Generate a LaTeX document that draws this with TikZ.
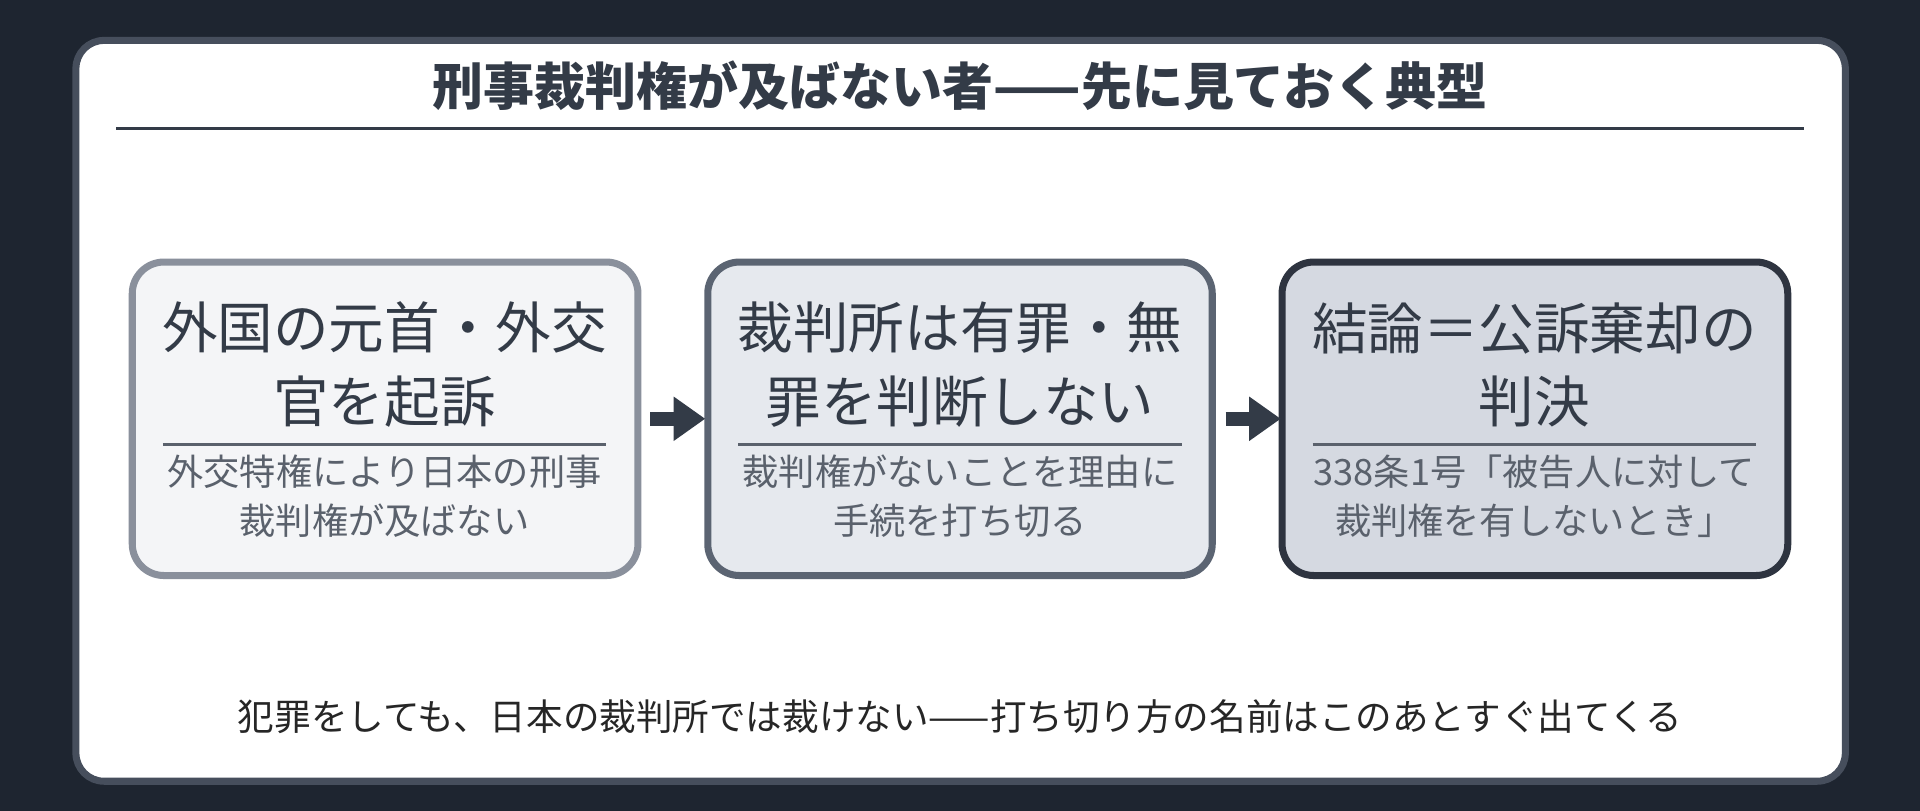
\documentclass[tikz,border=0pt]{standalone}
\usepackage{fontspec}
\setmainfont{Noto Sans CJK JP}
\usetikzlibrary{arrows.meta}
\definecolor{bg}{HTML}{1E2530}
\definecolor{ink}{HTML}{333B47}
\definecolor{sub}{HTML}{5A616C}
\tikzset{
 box/.style={rounded corners=9pt, line width=2pt},
 main/.style={font=\fontsize{15.8}{21}\selectfont, text=ink, align=center},
 subt/.style={font=\fontsize{10.3}{14}\selectfont, text=sub, align=center},
 arr/.style={-{Triangle[length=9pt,width=12pt]}, line width=4pt, draw=ink},
}
\begin{document}
\begin{tikzpicture}[x=0.012245cm,y=-0.012245cm]
\fill[bg] (0,0) rectangle (1568,662);
\useasboundingbox (0,0) rectangle (1568,662);
\draw[fill=white, draw={rgb,255:red,70;green,78;blue,92}, line width=2pt, rounded corners=8pt] (62,33) rectangle (1507,638);
\node[font=\bfseries\fontsize{14.5}{17}\selectfont, text=ink] (title) at (784,70) {刑事裁判権が及ばない者——先に見ておく典型};
\draw[ink, line width=1pt] (95,105) -- (1473,105);
% boxes
\draw[box, fill={rgb,255:red,244;green,245;blue,247}, draw={rgb,255:red,138;green,144;blue,156}] (108,214) rectangle (521,470);
\draw[box, fill={rgb,255:red,230;green,233;blue,238}, draw={rgb,255:red,91;green,100;blue,114}] (578,214) rectangle (990,470);
\draw[box, fill={rgb,255:red,213;green,217;blue,225}, draw={rgb,255:red,46;green,52;blue,64}] (1047,214) rectangle (1460,470);
\foreach \c in {314,784,1253}{\draw[sub, line width=0.8pt] (\c-181,363) -- (\c+181,363);}
\node[main] (m1) at (314,298) {外国の元首・外交\\官を起訴};
\node[subt] (s1) at (314,405) {外交特権により日本の刑事\\裁判権が及ばない};
\node[main] (m2) at (784,298) {裁判所は有罪・無\\罪を判断しない};
\node[subt] (s2) at (784,405) {裁判権がないことを理由に\\手続を打ち切る};
\node[main] (m3) at (1253,298) {結論＝公訴棄却の\\判決};
\node[subt] (s3) at (1253,405) {338条1号「被告人に対して\\裁判権を有しないとき」};
\coordinate (a1) at (531,342); \coordinate (b1) at (576,342);
\coordinate (a2) at (1001,342); \coordinate (b2) at (1046,342);
\draw[arr] (a1) -- (b1);
\draw[arr] (a2) -- (b2);
\node[font=\fontsize{10.4}{14}\selectfont, text=black!85] (foot) at (784,585) {犯罪をしても、日本の裁判所では裁けない——打ち切り方の名前はこのあとすぐ出てくる};
\end{tikzpicture}
\end{document}
